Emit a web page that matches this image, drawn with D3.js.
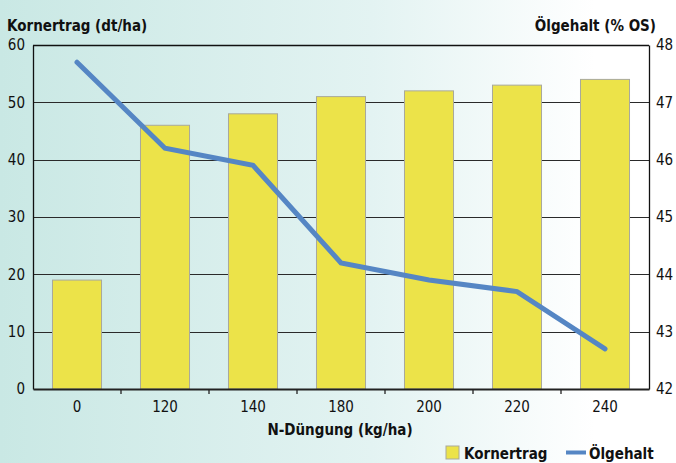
<!DOCTYPE html>
<html>
<head>
<meta charset="utf-8">
<script src="https://cdn.jsdelivr.net/npm/d3@7"></script>
<style>
  html, body { margin: 0; padding: 0; }
  body { width: 676px; height: 463px; overflow: hidden; }
  svg { display: block; }
  text { font-family: "DejaVu Sans Condensed", "DejaVu Sans", sans-serif; fill: #111; }
</style>
</head>
<body>
<svg id="chart" width="676" height="463"></svg>
<script>
// N-Düngung (kg/ha)
const categories = ["0", "120", "140", "180", "200", "220", "240"];
// Kornertrag (dt/ha)
const kornertrag = [19, 46, 48, 51, 52, 53, 54];
// Ölgehalt (% OS)
const oelgehalt = [47.7, 46.2, 45.9, 44.2, 43.9, 43.7, 42.7];
const leftTicks = [0, 10, 20, 30, 40, 50, 60];
const rightTicks = [42, 43, 44, 45, 46, 47, 48];

const W = 676, H = 463;
const m = { left: 33, right: 27, top: 45, bottom: 74 };
const iw = W - m.left - m.right, ih = H - m.top - m.bottom;

const svg = d3.select("#chart");

// background wash: pale teal fading to white
const defs = svg.append("defs");
const grad = defs.append("linearGradient").attr("id", "bg")
  .attr("x1", "0%").attr("x2", "100%").attr("y1", "0%").attr("y2", "0%");
grad.append("stop").attr("offset", "0%").attr("stop-color", "#c9e8e4");
grad.append("stop").attr("offset", "55%").attr("stop-color", "#e3f3f2");
grad.append("stop").attr("offset", "88%").attr("stop-color", "#ffffff");
grad.append("stop").attr("offset", "100%").attr("stop-color", "#ffffff");
svg.append("rect").attr("width", W).attr("height", H).attr("fill", "url(#bg)");

const g = svg.append("g").attr("transform", `translate(${m.left},${m.top})`);

const x = d3.scaleBand().domain(categories).range([0, iw]).paddingInner(0.443).paddingOuter(0.2215);
const xb = d3.scaleBand().domain(categories).range([0, iw]);
const yL = d3.scaleLinear().domain([0, 60]).range([ih, 0]);
const yR = d3.scaleLinear().domain([42, 48]).range([ih, 0]);

// horizontal grid lines
g.append("g").selectAll("line").data(leftTicks.filter(d => d > 0)).join("line")
  .attr("x1", 0).attr("x2", iw)
  .attr("y1", d => Math.round(yL(d)) + 0.5).attr("y2", d => Math.round(yL(d)) + 0.5)
  .attr("stroke", "#2a2a2a").attr("stroke-width", 1);

// bars
g.append("g").selectAll("rect").data(kornertrag).join("rect")
  .attr("x", (d, i) => x(categories[i]))
  .attr("y", d => yL(d))
  .attr("width", x.bandwidth())
  .attr("height", d => ih - yL(d))
  .attr("fill", "#ece349")
  .attr("stroke", "#a9a99c").attr("stroke-width", 1);

// left axis
const axL = g.append("g").call(d3.axisLeft(yL).tickValues(leftTicks)
  .tickFormat(d3.format("d")).tickSize(0).tickPadding(8));
axL.select(".domain").attr("stroke", "#111").attr("stroke-width", 1.3);
axL.selectAll("text").style("font-size", "15px").attr("fill", "#111");

// right axis
const axR = g.append("g").attr("transform", `translate(${iw},0)`)
  .call(d3.axisRight(yR).tickValues(rightTicks).tickFormat(d3.format("d")).tickSize(0).tickPadding(7));
axR.select(".domain").attr("stroke", "#111").attr("stroke-width", 1.3);
axR.selectAll("text").style("font-size", "15px").attr("fill", "#111");

// top border
g.append("line").attr("x1", 0).attr("x2", iw).attr("y1", 0.5).attr("y2", 0.5)
  .attr("stroke", "#111").attr("stroke-width", 1.3);

// bottom axis with tick marks between groups
const axB = g.append("g").attr("transform", `translate(0,${ih})`)
  .call(d3.axisBottom(x).tickSize(0).tickPadding(12));
axB.select(".domain").attr("stroke", "#222").attr("stroke-width", 2.2);
axB.selectAll("text").style("font-size", "15px").attr("fill", "#111");
g.append("g").selectAll("line").data(categories.slice(1)).join("line")
  .attr("x1", d => xb(d)).attr("x2", d => xb(d))
  .attr("y1", ih).attr("y2", ih + 5)
  .attr("stroke", "#222").attr("stroke-width", 1.3);

// Ölgehalt line
const line = d3.line()
  .x((d, i) => xb(categories[i]) + xb.bandwidth() / 2)
  .y(d => yR(d));
g.append("path").datum(oelgehalt)
  .attr("d", line)
  .attr("fill", "none")
  .attr("stroke", "#5586c4")
  .attr("stroke-width", 5)
  .attr("stroke-linecap", "round")
  .attr("stroke-linejoin", "miter");

// axis titles
svg.append("text").attr("x", 7).attr("y", 31)
  .style("font-size", "15px").style("font-weight", "bold").text("Kornertrag (dt/ha)");
svg.append("text").attr("x", 656).attr("y", 31).attr("text-anchor", "end")
  .style("font-size", "15px").style("font-weight", "bold").text("Ölgehalt (% OS)");
svg.append("text").attr("x", 340).attr("y", 435).attr("text-anchor", "middle")
  .style("font-size", "15px").style("font-weight", "bold").text("N-Düngung (kg/ha)");

// legend
const lg = svg.append("g");
lg.append("rect").attr("x", 446).attr("y", 446).attr("width", 13).attr("height", 13)
  .attr("fill", "#ece349").attr("stroke", "#a9a99c");
lg.append("text").attr("x", 464).attr("y", 459)
  .style("font-size", "15px").style("font-weight", "bold").text("Kornertrag");
lg.append("line").attr("x1", 566).attr("x2", 586).attr("y1", 452.5).attr("y2", 452.5)
  .attr("stroke", "#5586c4").attr("stroke-width", 4);
lg.append("text").attr("x", 589).attr("y", 459)
  .style("font-size", "15px").style("font-weight", "bold").text("Ölgehalt");
</script>
</body>
</html>
